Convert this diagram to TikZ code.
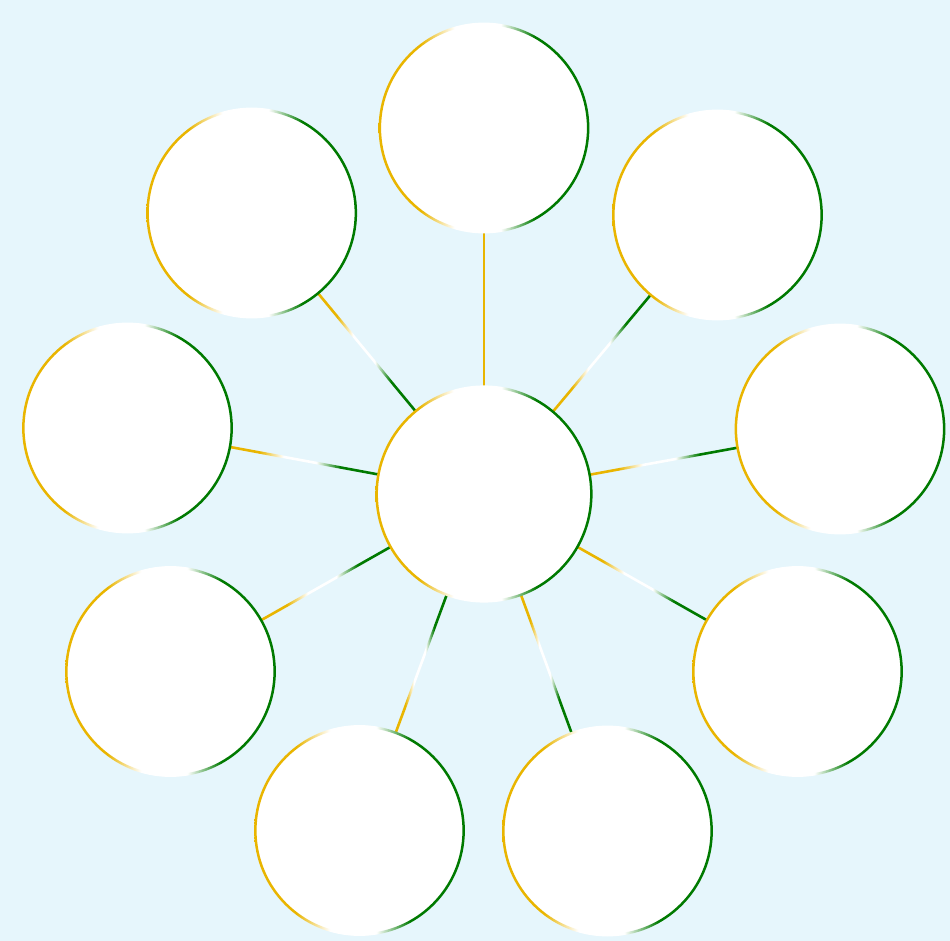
\documentclass[tikz,border=0pt]{standalone}
\usetikzlibrary{calc}
\definecolor{cy}{RGB}{233,181,0}
\definecolor{cg}{RGB}{0,122,0}
\definecolor{bgblue}{RGB}{230,246,252}
\pgfdeclarehorizontalshading{ygw}{100bp}{color(0bp)=(cy); color(35bp)=(cy); color(43bp)=(white); color(54bp)=(white); color(62bp)=(cg); color(100bp)=(cg)}
\tikzset{
  bubble/.style={circle, fill=white, draw=none, inner sep=0pt, minimum size=210pt},
  hub/.style={circle, fill=white, draw=none, inner sep=0pt, minimum size=216pt},
  ring/.style={shading=ygw, even odd rule},
  linkshade/.style={shading=ygw},
  linkplain/.style={fill=cy}
}
\begin{document}
\begin{tikzpicture}[x=1pt,y=-1pt]
\fill[bgblue] (0,0) rectangle (950,941);
\useasboundingbox (0,0) rectangle (950,941);
% nodes
\node[hub] (c0) at (484,494) {};
\node[bubble] (c1) at (484,128) {};
\node[bubble] (c2) at (717.5,215) {};
\node[bubble] (c3) at (840,429) {};
\node[bubble] (c4) at (797.5,671.5) {};
\node[bubble] (c5) at (607.5,831) {};
\node[bubble] (c6) at (359.5,830.5) {};
\node[bubble] (c7) at (170.5,671.5) {};
\node[bubble] (c8) at (127.5,428) {};
\node[bubble] (c9) at (251.7,213) {};
% connectors
\foreach \i in {1,...,9}{
  \coordinate (a\i) at ($(c0)!107pt!(c\i)$);
  \coordinate (b\i) at ($(c\i)!104pt!(c0)$);
}
\fill[linkplain] ($(a1)!1.2pt!90:(b1)$) -- ($(a1)!1.2pt!-90:(b1)$) -- ($(b1)!1.2pt!90:(a1)$) -- ($(b1)!1.2pt!-90:(a1)$) -- cycle;
\foreach \i in {2,...,9}{
  \shade[linkshade] ($(a\i)!1.3pt!90:(b\i)$) -- ($(a\i)!1.3pt!-90:(b\i)$) -- ($(b\i)!1.3pt!90:(a\i)$) -- ($(b\i)!1.3pt!-90:(a\i)$) -- cycle;
}
% rings
\shade[ring] (c0) circle[radius=108.6] (c0) circle[radius=106.1];
\foreach \i in {1,...,9}{
  \shade[ring] (c\i) circle[radius=105.4] (c\i) circle[radius=102.9];
}
\end{tikzpicture}
\end{document}
